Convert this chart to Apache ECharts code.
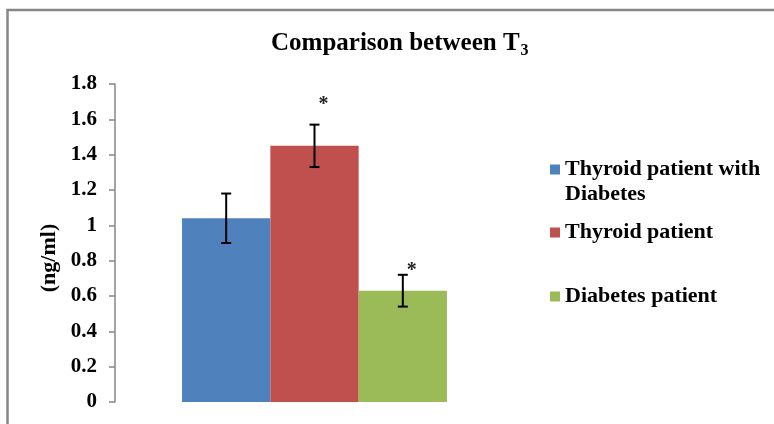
<!DOCTYPE html>
<html>
<head>
<meta charset="utf-8">
<script src="https://cdn.jsdelivr.net/npm/echarts@6/dist/echarts.min.js"></script>
<style>
  html, body { margin: 0; padding: 0; background: #fff; }
  #chart { width: 774px; height: 424px; }
</style>
</head>
<body>
<div id="chart"></div>
<script>
// T3 levels (ng/ml) by patient group, mean ± error
const groups = ['Thyroid patient with\nDiabetes', 'Thyroid patient', 'Diabetes patient'];
const means = [1.04, 1.45, 0.63];
const errors = [0.14, 0.12, 0.09];
const marks = ['', '*', '*'];
const yTicks = { min: 0, max: 1.8, interval: 0.2 };

const colors = ['#4f81bd', '#c0504d', '#9bbb59'];
const serif = '"Liberation Serif", "Times New Roman", serif';
const categoryGap = 0.336;
// vertical offset of each significance star above its whisker
const starLift = [0, 20, 4];

const chart = echarts.init(document.getElementById('chart'));

const barSeries = groups.map((name, i) => ({
  type: 'bar',
  name: name,
  data: [means[i]],
  barGap: '0%',
  barCategoryGap: (categoryGap * 100) + '%',
  itemStyle: { color: colors[i] },
  silent: true
}));

const errorSeries = {
  type: 'custom',
  z: 10,
  silent: true,
  data: groups.map((g, i) => [i, means[i] - errors[i], means[i] + errors[i]]),
  renderItem: function (params, api) {
    const i = api.value(0);
    const band = api.size([1, 0])[0];
    const barW = band * (1 - categoryGap) / groups.length;
    const cx = api.coord([0, 0])[0] + (i - (groups.length - 1) / 2) * barW;
    const yLo = api.coord([0, api.value(1)])[1];
    const yHi = api.coord([0, api.value(2)])[1];
    const cap = 5;
    const style = { stroke: '#000', lineWidth: 2 };
    const children = [
      { type: 'line', shape: { x1: cx, y1: yLo, x2: cx, y2: yHi }, style: style },
      { type: 'line', shape: { x1: cx - cap, y1: yLo, x2: cx + cap, y2: yLo }, style: style },
      { type: 'line', shape: { x1: cx - cap, y1: yHi, x2: cx + cap, y2: yHi }, style: style }
    ];
    if (marks[i]) {
      children.push({
        type: 'text',
        style: {
          text: marks[i], x: cx + 9, y: yHi - starLift[i],
          align: 'center', verticalAlign: 'middle',
          font: 'bold 20px ' + serif, fill: '#222'
        }
      });
    }
    return { type: 'group', children: children };
  }
};

// icon centre sits on the first text line of each entry
const legendTops = [132, 220, 284];
const legends = groups.map((name, i) => ({
  data: [name],
  orient: 'vertical',
  left: 550,
  top: legendTops[i],
  padding: 0,
  icon: 'rect',
  itemWidth: 10,
  itemHeight: 10,
  selectedMode: false,
  formatter: n => (n.indexOf('\n') >= 0 ? ' \n' + n : n),
  textStyle: {
    fontFamily: serif, fontWeight: 'bold', fontSize: 22, color: '#000',
    lineHeight: 25
  }
}));

chart.setOption({
  animation: false,
  backgroundColor: '#fff',
  title: {
    text: 'Comparison between T{sub|3}',
    left: 271,
    top: 29,
    padding: 0,
    textStyle: {
      fontFamily: serif, fontWeight: 'bold', fontSize: 25, color: '#000',
      rich: { sub: { fontFamily: serif, fontWeight: 'bold', fontSize: 16, color: '#000', padding: [14, 0, 0, 1] } }
    }
  },
  legend: legends,
  grid: { left: 115, right: 260, top: 84, bottom: 22, containLabel: false },
  xAxis: {
    type: 'category',
    data: ['T3'],
    axisLine: { show: false },
    axisTick: { show: false },
    axisLabel: { show: false }
  },
  yAxis: {
    type: 'value',
    min: yTicks.min, max: yTicks.max, interval: yTicks.interval,
    name: '(ng/ml)',
    nameLocation: 'middle',
    nameGap: 48,
    nameTextStyle: { fontFamily: serif, fontWeight: 'bold', fontSize: 22, color: '#000', padding: [0, 30, 0, 0] },
    axisLine: { show: true, lineStyle: { color: '#868686', width: 1.5 } },
    axisTick: { show: true, length: 6, lineStyle: { color: '#868686', width: 1.5 } },
    splitLine: { show: false },
    axisLabel: {
      fontFamily: serif, fontWeight: 'bold', fontSize: 21, color: '#000', margin: 18,
      formatter: v => String(Math.round(v * 10) / 10)
    }
  },
  graphic: [{
    type: 'polyline',
    shape: { points: [[7.5, 440], [7.5, 10], [790, 10]] },
    style: { stroke: '#878787', lineWidth: 2.5, fill: null },
    silent: true
  }],
  series: barSeries.concat([errorSeries])
});
</script>
</body>
</html>
